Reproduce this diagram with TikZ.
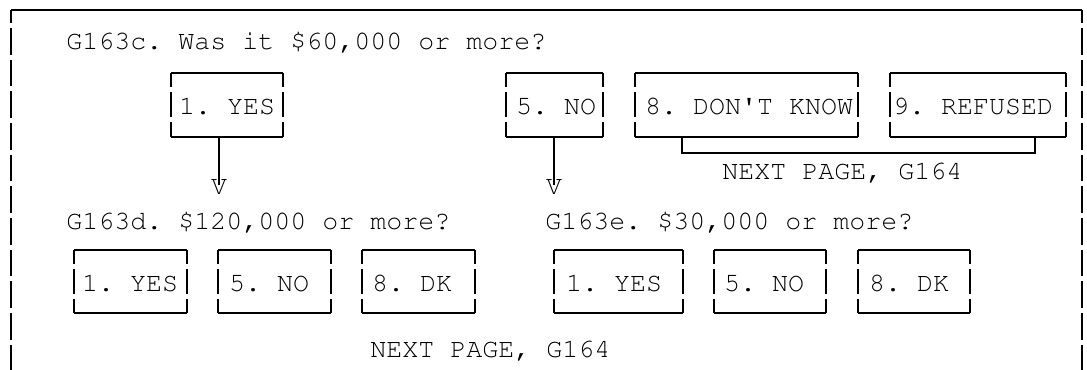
\documentclass[tikz,border=0pt]{standalone}
\usepackage[T1]{fontenc}
\newcommand\courfont{\fontencoding{T1}\fontfamily{pcr}\fontseries{m}\fontshape{n}\fontsize{20}{24}\selectfont\frenchspacing}
\newcommand\optnode[7]{%
  \pgfmathsetlengthmacro\optTW{(#4-2*#6)*0.75pt}%
  \node[opt, minimum width=#4*0.75pt, minimum height=#5*0.75pt, inner xsep=#6*0.75pt] (#1) at (#2,#3) {\makebox[\optTW][l]{#7}};
  \draw[hline] (#1.north west) -- (#1.north east) (#1.south west) -- (#1.south east);
  \draw[vline] (#1.north west) -- (#1.south west) (#1.north east) -- (#1.south east);
}
\begin{document}
\begin{tikzpicture}[x=0.75pt,y=-0.75pt,
  txt/.style={font=\courfont, inner sep=0pt, anchor=base west},
  opt/.style={font=\courfont, inner ysep=0pt, outer sep=0pt, text height=15pt, text depth=0pt},
  hline/.style={line width=0.8pt, black},
  vline/.style={line width=0.8pt, black, dash pattern=on 10.5pt off 3.75pt on 18.75pt off 3.75pt on 20pt off 10pt},
  frameh/.style={line width=0.8pt},
  framev/.style={line width=0.8pt, dash pattern=on 20pt off 3.75pt, dash phase=10.3pt},
  conn/.style={line width=0.8pt}
]
\useasboundingbox (0,0) rectangle (1087,370);
% frame
\coordinate (ftl) at (11,10);
\coordinate (ftr) at (1082,10);
\coordinate (fbl) at (11,370);
\coordinate (fbr) at (1082,370);
\draw[frameh] (ftl) -- (ftr);
\draw[framev] (ftl) -- (fbl);
\draw[framev] (ftr) -- (fbr);
% question G163c
\node[txt] (q1) at (66,50) {G163c. Was it \$60,000 or more?};
\optnode{a1}{227}{105}{112}{64}{8}{1. YES}
\optnode{a5}{554.5}{105}{97}{64}{10}{5. NO}
\optnode{a8}{746.5}{105}{223}{64}{10}{8. DON\textquotesingle T KNOW}
\optnode{a9}{978}{105}{176}{64}{3}{9. REFUSED}
% bracket to next page
\coordinate (brL) at (682,153);
\coordinate (brR) at (1035,153);
\draw[conn] (brL |- a8.south) -- (brL) -- (brR) -- (brR |- a9.south);
\node[txt] (np1) at (722,180) {NEXT PAGE, G164};
% arrows
\node[txt, anchor=base] (vA) at (219,195) {V};
\node[txt, anchor=base] (vB) at (554,195) {V};
\draw[conn] (a1.south -| vA) -- ([yshift=-4pt]vA.north);
\draw[conn] (a5.south -| vB) -- ([yshift=-4pt]vB.north);
% question G163d
\node[txt] (q2) at (66,229) {G163d. \$120,000 or more?};
\optnode{b1}{130.5}{281.5}{113}{63}{8}{1. YES}
\optnode{b5}{274.5}{281.5}{113}{63}{11}{5. NO}
\optnode{b8}{418.5}{281.5}{113}{63}{10}{8. DK}
% question G163e
\node[txt] (q3) at (545,229) {G163e. \$30,000 or more?};
\optnode{c1}{618.5}{281.5}{129}{63}{12}{1. YES}
\optnode{c5}{770}{281.5}{112}{63}{10}{5. NO}
\optnode{c8}{914}{281.5}{112}{63}{11}{8. DK}
\node[txt] (np2) at (370,357) {NEXT PAGE, G164};
\end{tikzpicture}
\end{document}
